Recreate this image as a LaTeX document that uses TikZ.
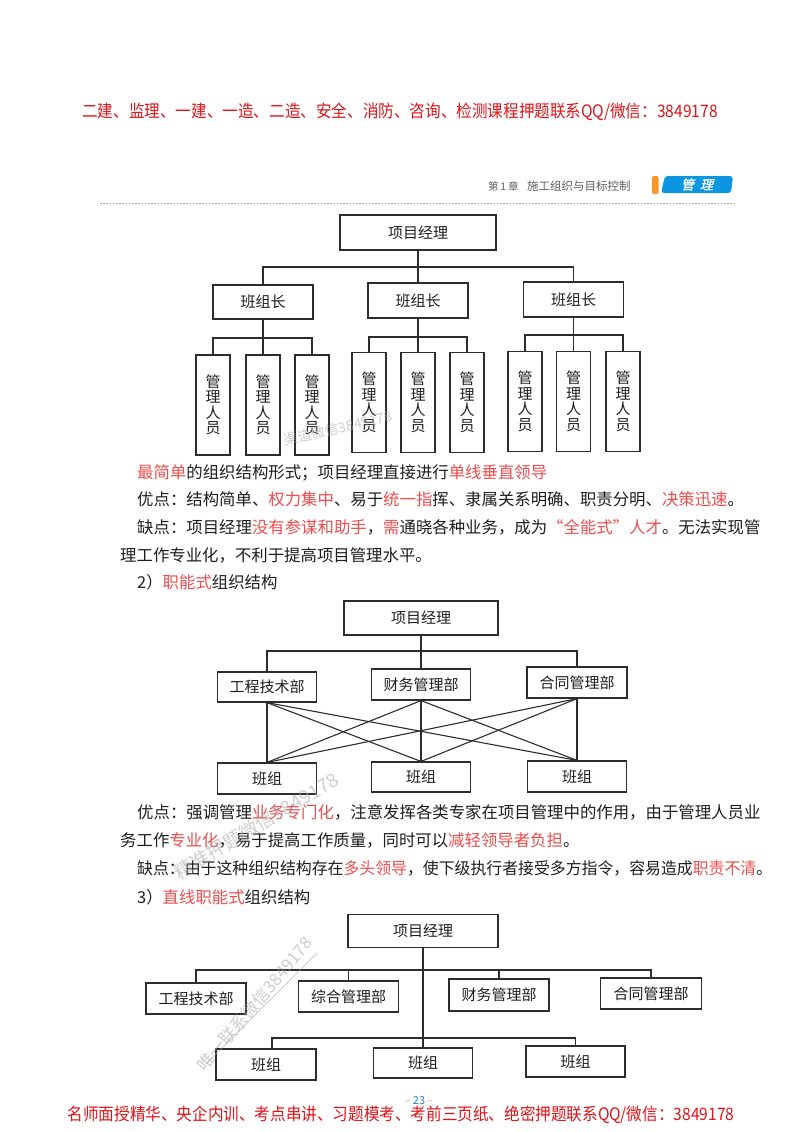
\documentclass[tikz,border=0pt]{standalone}
\usepackage{fontspec}
\newfontfamily\cjk{Noto Sans CJK SC}
\newfontfamily\cjkslant{Noto Sans CJK SC}[FakeSlant=0.25,FakeBold=1.5]
\definecolor{hdred}{RGB}{226,20,26}
\definecolor{hlred}{RGB}{236,78,78}
\definecolor{ink}{RGB}{30,30,30}
\definecolor{linec}{RGB}{45,45,45}
\definecolor{tabblue}{RGB}{12,150,226}
\definecolor{taborange}{RGB}{246,150,44}
\definecolor{pgblue}{RGB}{40,130,200}
\newcommand{\rd}[1]{\textcolor{hlred}{#1}}
\tikzset{
  box/.style={draw=linec, line width=1.2pt, inner sep=0pt, align=center, text=ink,
    font=\cjk\fontsize{15}{15.5}\selectfont},
  conn/.style={draw=linec, line width=1.1pt},
  txt/.style={anchor=base west, inner sep=0pt, text=ink, font=\cjk\fontsize{16.4}{18}\selectfont},
  banner/.style={inner sep=0pt, text=hdred, font=\cjk\fontsize{15.6}{17}\selectfont},
  wmark/.style={inner sep=0pt, text=gray!70, opacity=0.55}
}
\begin{document}
\begin{tikzpicture}[x=1pt,y=-1pt]
\useasboundingbox (0,0) rectangle (800,1132);
\fill[white] (0,0) rectangle (800,1132);

% ---- banner and page header ----
\node[banner] (hdr) at (400,112) {\scalebox{1}[1.1]{二建、监理、一建、一造、二造、安全、消防、咨询、检测课程押题联系QQ/微信：3849178}};
\node[inner sep=0pt, anchor=west, text=gray!75!black, font=\cjk\fontsize{10.5}{12}\selectfont] (chap) at (488,186) {第\,1\,章};
\node[inner sep=0pt, anchor=west, text=gray!75!black, font=\cjk\fontsize{11.5}{12}\selectfont] (chapt) at (527,186) {施工组织与目标控制};
\fill[taborange, rounded corners=1.5pt] (652,176) rectangle (658.5,194);
\fill[tabblue, rounded corners=3pt] (665,176) -- (733,176) -- (731,193) -- (661,193) -- cycle;
\node[inner sep=0pt, text=white, font=\cjkslant\fontsize{13}{14}\selectfont] (tab) at (697,184.5) {管\hspace{6pt}理};
\draw[gray!70, line width=0.7pt, dash pattern=on 1.6pt off 1.6pt] (100,203) -- (736,203);

% ---- diagram 1 ----
\node[box, minimum width=156pt, minimum height=35pt] (pm1) at (418,232.5) {项目经理};
\node[box, minimum width=100pt, minimum height=34pt] (l1) at (263,302) {班组长};
\node[box, minimum width=100pt, minimum height=35pt] (m1) at (418,300.5) {班组长};
\node[box, minimum width=100pt, minimum height=35pt] (r1) at (573.5,299.5) {班组长};
\coordinate (bus1) at (418,267);
\draw[conn] (pm1.south) -- (m1.north);
\draw[conn] (l1.north) |- (bus1) -| (r1.north);
\foreach \n/\x/\y in {a1/213/405, a2/263/405, a3/312/405,
                      b1/369/402.5, b2/418/402.5, b3/467/402.5,
                      c1/525/401.5, c2/573.5/401.5, c3/623/401.5}
  \node[box, minimum width=34pt, minimum height=100pt] (\n) at (\x,\y) {管\\理\\人\\员};
\coordinate (sa) at (263,338);
\coordinate (sb) at (418,337);
\coordinate (sc) at (573.5,335);
\draw[conn] (l1.south) -- (a2.north);
\draw[conn] (a1.north) |- (sa) -| (a3.north);
\draw[conn] (m1.south) -- (b2.north);
\draw[conn] (b1.north) |- (sb) -| (b3.north);
\draw[conn] (r1.south) -- (c2.north);
\draw[conn] (c1.north) |- (sc) -| (c3.north);

% ---- text block 1 ----
\node[txt] (t1) at (137,478) {\rd{最简单}的组织结构形式；项目经理直接进行\rd{单线垂直领导}};
\node[txt] (t2) at (137,505) {优点：结构简单、\rd{权力集中}、易于\rd{统一指}挥、隶属关系明确、职责分明、\rd{决策迅速}。};
\node[txt] (t3) at (137,533) {缺点：项目经理\rd{没有参谋和助手}，\rd{需}通晓各种业务，成为\rd{“全能式”人才}。无法实现管};
\node[txt] (t4) at (120,561) {理工作专业化，不利于提高项目管理水平。};
\node[txt] (t5) at (137,588) {2）\rd{职能式}组织结构};

% ---- diagram 2 ----
\node[box, minimum width=154pt, minimum height=34pt] (pm2) at (421,618) {项目经理};
\node[box, minimum width=99pt, minimum height=30pt] (d1) at (267,687) {工程技术部};
\node[box, minimum width=99pt, minimum height=31pt] (d2) at (421,684.5) {财务管理部};
\node[box, minimum width=100pt, minimum height=31pt] (d3) at (577,682.5) {合同管理部};
\node[box, minimum width=99pt, minimum height=31pt] (g1) at (267,778.5) {班组};
\node[box, minimum width=99pt, minimum height=30pt] (g2) at (421,777) {班组};
\node[box, minimum width=99pt, minimum height=31pt] (g3) at (577,776.5) {班组};
\coordinate (bus2) at (421,651);
\draw[conn] (pm2.south) -- (d2.north);
\draw[conn] (d1.north) |- (bus2) -| (d3.north);
\foreach \i in {1,2,3}{
  \foreach \j in {1,2,3}{
    \draw[conn] (d\i.south) -- (g\j.north);
  }
}

% ---- text block 2 ----
\node[txt] (u1) at (137,818) {优点：强调管理\rd{业务专门化}，注意发挥各类专家在项目管理中的作用，由于管理人员业};
\node[txt] (u2) at (120,846) {务工作\rd{专业化}，易于提高工作质量，同时可以\rd{减轻领导者负担}。};
\node[txt] (u3) at (137,874) {\scalebox{0.968}[1]{缺点：由于这种组织结构存在\rd{多头领导}，使下级执行者接受多方指令，容易造成\rd{职责不清}。}};
\node[txt] (u4) at (137,903) {3）\rd{直线职能式}组织结构};

% ---- diagram 3 ----
\node[box, minimum width=150pt, minimum height=33pt] (pm3) at (423,931) {项目经理};
\node[box, minimum width=100pt, minimum height=31pt] (e1) at (196,998.5) {工程技术部};
\node[box, minimum width=100pt, minimum height=31pt] (e2) at (348.5,996.5) {综合管理部};
\node[box, minimum width=100pt, minimum height=32pt] (e3) at (499,995) {财务管理部};
\node[box, minimum width=101pt, minimum height=31pt] (e4) at (651,993.5) {合同管理部};
\node[box, minimum width=100pt, minimum height=31pt] (f1) at (266,1064.5) {班组};
\node[box, minimum width=99pt, minimum height=30pt] (f2) at (423,1063) {班组};
\node[box, minimum width=99pt, minimum height=31pt] (f3) at (575.5,1061.5) {班组};
\coordinate (bus3) at (423,970);
\coordinate (bus4) at (423,1038);
\draw[conn] (pm3.south) -- (f2.north);
\draw[conn] (e1.north) |- (bus3) -| (e4.north);
\draw[conn] (e2.north) -- (e2.north |- bus3);
\draw[conn] (e3.north) -- (e3.north |- bus3);
\draw[conn] ([xshift=6pt]f1.north) |- (bus4) -| (f3.north);

% ---- watermarks ----
\node[wmark, rotate=13, font=\cjk\fontsize{14}{15}\selectfont] (w1) at (338,428) {渠道微信3849178};
\node[wmark, rotate=31, font=\cjk\fontsize{19}{20}\selectfont] (w2) at (256,826) {精准押题微信3849178};
\node[wmark, rotate=50, font=\cjk\fontsize{17}{18}\selectfont] (w3) at (255,1004) {唯一联系微信3849178};
\draw[gray!70, opacity=0.55, line width=0.8pt] (206,1064) -- (317,953);

% ---- footer ----
\node[inner sep=0pt, font=\cjk\fontsize{11}{12}\selectfont] (pg) at (419,1101) {\textcolor{hlred!60}{–}\,\textcolor{pgblue}{23}\,\textcolor{hlred!60}{–}};
\node[banner] (ftr) at (401,1115) {\scalebox{1}[1.1]{名师面授精华、央企内训、考点串讲、习题模考、考前三页纸、绝密押题联系QQ/微信：3849178}};
\end{tikzpicture}
\end{document}
